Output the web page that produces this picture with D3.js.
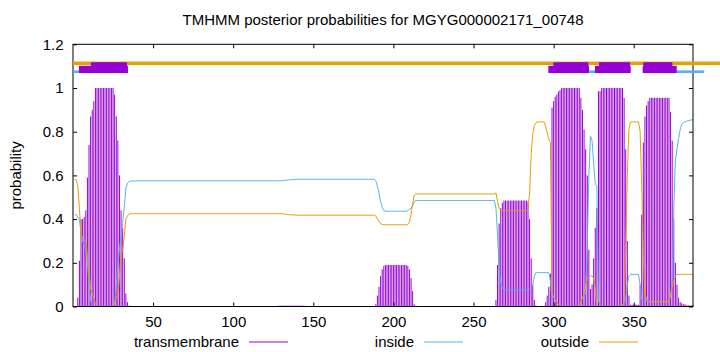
<!DOCTYPE html>
<html>
<head>
<meta charset="utf-8">
<script src="https://cdn.jsdelivr.net/npm/d3@7"></script>
<style>
  body { margin: 0; background: #fff; }
  svg { display: block; font-family: "Liberation Sans", Arial, sans-serif; }
  .axis text { font-size: 15px; fill: #000; }
  .axis line { stroke: #000; }
</style>
</head>
<body>
<div id="chart"></div>
<script>
var title = "TMHMM posterior probabilities for MGYG000002171_00748";

var xTicks = [50, 100, 150, 200, 250, 300, 350];
var yTicks = [0, 0.2, 0.4, 0.6, 0.8, 1, 1.2];
var yTickLabels = ["0", "0.2", "0.4", "0.6", "0.8", "1", "1.2"];

// posterior probability per residue (1..387)
var tmProb = [
  0, 0, 0.04, 0.21, 0.40, 0.40, 0.41, 0.44, 0.59, 0.74,
  0.87, 0.90, 0.94, 1, 1, 1, 1, 1, 1, 1,
  1, 1, 1, 1, 1, 0.97, 0.87, 0.76, 0.60, 0.44,
  0.36, 0.22, 0.06, 0.02, 0.005, 0, 0, 0, 0, 0,
  0, 0, 0, 0, 0, 0, 0, 0, 0, 0,
  0, 0, 0, 0, 0, 0, 0, 0, 0, 0,
  0, 0, 0, 0, 0, 0, 0, 0, 0, 0,
  0, 0, 0, 0, 0, 0, 0, 0, 0, 0,
  0, 0, 0, 0, 0, 0, 0, 0, 0, 0,
  0, 0, 0, 0, 0, 0, 0, 0, 0, 0,
  0, 0, 0, 0, 0, 0, 0, 0, 0, 0,
  0, 0, 0, 0, 0, 0, 0, 0, 0, 0,
  0, 0, 0, 0, 0, 0, 0, 0.003, 0.004, 0.004,
  0.004, 0.004, 0.004, 0.004, 0.004, 0.004, 0.004, 0.004, 0.004, 0.004,
  0.004, 0.004, 0.004, 0.004, 0.003, 0, 0, 0, 0, 0,
  0, 0, 0, 0, 0, 0, 0, 0, 0, 0,
  0, 0, 0, 0, 0, 0, 0, 0, 0, 0,
  0, 0, 0, 0, 0, 0, 0, 0, 0, 0,
  0, 0, 0, 0, 0, 0, 0, 0, 0.01, 0.05,
  0.09, 0.14, 0.17, 0.185, 0.19, 0.19, 0.19, 0.19, 0.19, 0.19,
  0.19, 0.19, 0.19, 0.19, 0.19, 0.19, 0.19, 0.19, 0.185, 0.17,
  0.13, 0.07, 0.01, 0, 0, 0, 0, 0, 0, 0,
  0, 0, 0, 0, 0, 0, 0, 0, 0, 0,
  0, 0, 0, 0, 0, 0, 0, 0, 0, 0,
  0, 0, 0, 0, 0, 0, 0, 0, 0, 0,
  0, 0, 0, 0, 0, 0, 0, 0, 0, 0,
  0, 0, 0, 0.03, 0.19, 0.38, 0.45, 0.475, 0.485, 0.485,
  0.485, 0.485, 0.485, 0.485, 0.485, 0.485, 0.485, 0.485, 0.485, 0.485,
  0.485, 0.485, 0.485, 0.48, 0.40, 0.22, 0.10, 0.03, 0.005, 0.002,
  0.002, 0.002, 0.002, 0.002, 0.02, 0.05, 0.09, 0.15, 0.91, 0.94,
  0.96, 0.97, 0.984, 0.99, 1, 1, 1, 1, 1, 1,
  1, 1, 1, 1, 1, 1, 0.955, 0.90, 0.81, 0.72,
  0.60, 0.26, 0.08, 0.10, 0.22, 0.36, 0.45, 0.985, 0.985, 1,
  1, 1, 1, 1, 1, 1, 1, 1, 1, 1,
  1, 1, 1, 0.954, 0.72, 0.30, 0.05, 0.008, 0.008, 0.008,
  0.008, 0.008, 0.008, 0.10, 0.42, 0.75, 0.87, 0.92, 0.94, 0.955,
  0.955, 0.955, 0.955, 0.955, 0.955, 0.955, 0.955, 0.955, 0.955, 0.955,
  0.955, 0.955, 0.89, 0.76, 0.40, 0.20, 0.10, 0.04, 0.02, 0.015,
  0.01, 0.01, 0.005, 0.005, 0.005, 0.005, 0.005
];

var insideProb = [
  0.42, 0.42, 0.41, 0.40, 0.34, 0.30, 0.28, 0.27, 0.20, 0.10,
  0.03, 0, 0, 0, 0, 0, 0, 0, 0, 0,
  0, 0, 0, 0, 0, 0.01, 0.09, 0.19, 0.26, 0.32,
  0.38, 0.46, 0.54, 0.565, 0.572, 0.574, 0.575, 0.575, 0.575, 0.575,
  0.575, 0.575, 0.575, 0.575, 0.575, 0.575, 0.575, 0.575, 0.575, 0.575,
  0.575, 0.575, 0.575, 0.575, 0.575, 0.575, 0.575, 0.575, 0.575, 0.575,
  0.575, 0.575, 0.575, 0.575, 0.575, 0.575, 0.575, 0.575, 0.575, 0.575,
  0.575, 0.575, 0.575, 0.575, 0.575, 0.575, 0.575, 0.575, 0.575, 0.575,
  0.575, 0.575, 0.575, 0.575, 0.575, 0.575, 0.575, 0.575, 0.575, 0.575,
  0.575, 0.575, 0.575, 0.575, 0.575, 0.575, 0.575, 0.575, 0.575, 0.575,
  0.575, 0.575, 0.575, 0.575, 0.575, 0.575, 0.575, 0.575, 0.575, 0.575,
  0.575, 0.575, 0.575, 0.575, 0.575, 0.575, 0.575, 0.575, 0.575, 0.575,
  0.575, 0.575, 0.575, 0.575, 0.575, 0.575, 0.575, 0.575, 0.575, 0.575,
  0.576, 0.577, 0.578, 0.579, 0.58, 0.58, 0.581, 0.581, 0.582, 0.582,
  0.582, 0.582, 0.582, 0.582, 0.582, 0.582, 0.582, 0.582, 0.582, 0.582,
  0.582, 0.582, 0.582, 0.582, 0.582, 0.582, 0.582, 0.582, 0.582, 0.582,
  0.582, 0.582, 0.582, 0.582, 0.582, 0.582, 0.582, 0.582, 0.582, 0.582,
  0.582, 0.582, 0.582, 0.582, 0.582, 0.582, 0.582, 0.582, 0.582, 0.582,
  0.582, 0.582, 0.582, 0.582, 0.582, 0.582, 0.582, 0.582, 0.575, 0.55,
  0.52, 0.48, 0.455, 0.44, 0.437, 0.436, 0.436, 0.436, 0.436, 0.436,
  0.436, 0.436, 0.436, 0.436, 0.436, 0.436, 0.436, 0.436, 0.44, 0.445,
  0.45, 0.46, 0.48, 0.485, 0.485, 0.485, 0.485, 0.485, 0.485, 0.485,
  0.485, 0.485, 0.485, 0.485, 0.485, 0.485, 0.485, 0.485, 0.485, 0.485,
  0.485, 0.485, 0.485, 0.485, 0.485, 0.485, 0.485, 0.485, 0.485, 0.485,
  0.485, 0.485, 0.485, 0.485, 0.485, 0.485, 0.485, 0.485, 0.485, 0.485,
  0.485, 0.485, 0.485, 0.485, 0.485, 0.485, 0.485, 0.485, 0.485, 0.485,
  0.485, 0.485, 0.485, 0.45, 0.33, 0.17, 0.11, 0.085, 0.076, 0.076,
  0.076, 0.076, 0.076, 0.076, 0.076, 0.076, 0.076, 0.076, 0.076, 0.076,
  0.076, 0.076, 0.076, 0.076, 0.08, 0.09, 0.10, 0.14, 0.155, 0.155,
  0.155, 0.155, 0.155, 0.155, 0.155, 0.155, 0.155, 0.12, 0.02, 0.01,
  0, 0, 0, 0, 0, 0, 0, 0, 0, 0,
  0, 0, 0, 0, 0, 0, 0, 0, 0.02, 0.08,
  0.27, 0.60, 0.78, 0.76, 0.65, 0.56, 0.55, 0.02, 0.015, 0,
  0, 0, 0, 0, 0, 0, 0, 0, 0, 0,
  0, 0, 0, 0.02, 0.03, 0.10, 0.14, 0.147, 0.147, 0.147,
  0.147, 0.147, 0.147, 0.10, 0.03, 0.022, 0.022, 0.022, 0.022, 0.022,
  0.022, 0.022, 0.022, 0.022, 0.022, 0.022, 0.022, 0.022, 0.022, 0.022,
  0.022, 0.022, 0.05, 0.12, 0.45, 0.67, 0.72, 0.77, 0.81, 0.835,
  0.842, 0.845, 0.848, 0.85, 0.852, 0.854, 0.855
];

var outsideProb = [
  0.58, 0.58, 0.55, 0.45, 0.33, 0.31, 0.305, 0.30, 0.23, 0.16,
  0.08, 0.06, 0.04, 0.01, 0, 0, 0, 0, 0, 0,
  0, 0, 0, 0, 0, 0.02, 0.04, 0.05, 0.14, 0.24,
  0.26, 0.32, 0.40, 0.415, 0.423, 0.425, 0.425, 0.425, 0.425, 0.425,
  0.425, 0.425, 0.425, 0.425, 0.425, 0.425, 0.425, 0.425, 0.425, 0.425,
  0.425, 0.425, 0.425, 0.425, 0.425, 0.425, 0.425, 0.425, 0.425, 0.425,
  0.425, 0.425, 0.425, 0.425, 0.425, 0.425, 0.425, 0.425, 0.425, 0.425,
  0.425, 0.425, 0.425, 0.425, 0.425, 0.425, 0.425, 0.425, 0.425, 0.425,
  0.425, 0.425, 0.425, 0.425, 0.425, 0.425, 0.425, 0.425, 0.425, 0.425,
  0.425, 0.425, 0.425, 0.425, 0.425, 0.425, 0.425, 0.425, 0.425, 0.425,
  0.425, 0.425, 0.425, 0.425, 0.425, 0.425, 0.425, 0.425, 0.425, 0.425,
  0.425, 0.425, 0.425, 0.425, 0.425, 0.425, 0.425, 0.425, 0.425, 0.425,
  0.425, 0.425, 0.425, 0.425, 0.425, 0.425, 0.425, 0.425, 0.425, 0.425,
  0.424, 0.423, 0.422, 0.421, 0.42, 0.42, 0.419, 0.419, 0.418, 0.418,
  0.418, 0.418, 0.418, 0.418, 0.418, 0.418, 0.418, 0.418, 0.418, 0.418,
  0.418, 0.418, 0.418, 0.418, 0.418, 0.418, 0.418, 0.418, 0.418, 0.418,
  0.418, 0.418, 0.418, 0.418, 0.418, 0.418, 0.418, 0.418, 0.418, 0.418,
  0.418, 0.418, 0.418, 0.418, 0.418, 0.418, 0.418, 0.418, 0.418, 0.418,
  0.418, 0.418, 0.418, 0.418, 0.418, 0.418, 0.418, 0.418, 0.415, 0.40,
  0.39, 0.38, 0.375, 0.375, 0.374, 0.374, 0.374, 0.374, 0.374, 0.374,
  0.374, 0.374, 0.374, 0.374, 0.374, 0.374, 0.374, 0.374, 0.375, 0.385,
  0.42, 0.47, 0.51, 0.515, 0.515, 0.515, 0.515, 0.515, 0.515, 0.515,
  0.515, 0.515, 0.515, 0.515, 0.515, 0.515, 0.515, 0.515, 0.515, 0.515,
  0.515, 0.515, 0.515, 0.515, 0.515, 0.515, 0.515, 0.515, 0.515, 0.515,
  0.515, 0.515, 0.515, 0.515, 0.515, 0.515, 0.515, 0.515, 0.515, 0.515,
  0.515, 0.515, 0.515, 0.515, 0.515, 0.515, 0.515, 0.515, 0.515, 0.515,
  0.515, 0.515, 0.515, 0.52, 0.48, 0.45, 0.44, 0.44, 0.439, 0.439,
  0.439, 0.439, 0.439, 0.439, 0.439, 0.439, 0.439, 0.439, 0.439, 0.439,
  0.439, 0.439, 0.439, 0.444, 0.52, 0.70, 0.79, 0.83, 0.84, 0.845,
  0.845, 0.845, 0.845, 0.845, 0.825, 0.795, 0.765, 0.75, 0.07, 0.04,
  0.03, 0.02, 0.01, 0.005, 0, 0, 0, 0, 0, 0,
  0, 0, 0, 0, 0, 0, 0.02, 0.04, 0.06, 0.09,
  0.13, 0.137, 0.14, 0.14, 0.13, 0.08, 0, 0, 0, 0,
  0, 0, 0, 0, 0, 0, 0, 0, 0, 0,
  0, 0, 0, 0.026, 0.25, 0.60, 0.81, 0.845, 0.845, 0.845,
  0.845, 0.845, 0.845, 0.80, 0.55, 0.23, 0.06, 0.03, 0.022, 0.022,
  0.022, 0.022, 0.022, 0.022, 0.022, 0.022, 0.022, 0.022, 0.022, 0.022,
  0.022, 0.022, 0.05, 0.09, 0.12, 0.14, 0.147, 0.147, 0.147, 0.147,
  0.147, 0.147, 0.147, 0.147, 0.147, 0.147, 0.147
];

// predicted topology drawn above the curves (residue ranges)
var outsideTop = [[0, 404]];
var insideTop = [[0.2, 10.6], [319.6, 327.8], [374.5, 394]];
var tmTopWide = [[3.7, 34.3], [296.7, 322.1], [325.8, 348.1], [355.6, 376.8]];
var tmTopCore = [[11.2, 33.7], [299.8, 321.7], [328.3, 347.7], [356, 374.1]];

var legendNames = ["transmembrane", "inside", "outside"];
var colors = { tm: "#9400d3", inside: "#56b4e9", outside: "#e69f00" };

function viz() {
  var width = 720, height = 352;
  var left = 73, right = 693, top = 44.3, bottom = 306.5;

  var svg = d3.select("#chart").append("svg")
    .attr("width", width)
    .attr("height", height);

  var x = d3.scaleLinear().domain([0, 387]).range([left, right]);
  var y = d3.scaleLinear().domain([0, 1.2]).range([bottom, top]);

  var pos = tmProb.map(function(d, i) { return i + 1; });

  // impulses
  svg.append("g")
    .selectAll("line")
    .data(pos)
    .enter().append("line")
      .attr("x1", function(d) { return x(d); })
      .attr("x2", function(d) { return x(d); })
      .attr("y1", y(0))
      .attr("y2", function(d) { return y(tmProb[d - 1]); })
      .attr("stroke", colors.tm)
      .attr("stroke-width", 1);

  var line = d3.line()
    .x(function(d, i) { return x(i + 1); })
    .y(function(d) { return y(d); });

  svg.append("path")
    .datum(insideProb)
    .attr("d", line)
    .attr("fill", "none")
    .attr("stroke", colors.inside)
    .attr("stroke-width", 1);

  svg.append("path")
    .datum(outsideProb)
    .attr("d", line)
    .attr("fill", "none")
    .attr("stroke", colors.outside)
    .attr("stroke-width", 1);

  // axes, ticks inward on all four sides
  var yAxis = d3.axisLeft(y).tickValues(yTicks)
    .tickFormat(function(d, i) { return yTickLabels[i]; })
    .tickSizeInner(-4).tickSizeOuter(0).tickPadding(9.5);
  svg.append("g").attr("class", "axis")
    .attr("transform", "translate(" + left + ",0)")
    .call(yAxis);

  svg.append("g").attr("class", "axis")
    .attr("transform", "translate(" + right + ",0)")
    .call(d3.axisRight(y).tickValues(yTicks).tickFormat("").tickSizeInner(-4).tickSizeOuter(0));

  svg.append("g").attr("class", "axis")
    .attr("transform", "translate(0," + bottom + ")")
    .call(d3.axisBottom(x).tickValues(xTicks).tickSizeInner(-4).tickSizeOuter(0).tickPadding(10));

  svg.append("g").attr("class", "axis")
    .attr("transform", "translate(0," + top + ")")
    .call(d3.axisTop(x).tickValues(xTicks).tickFormat("").tickSizeInner(-4).tickSizeOuter(0));

  svg.selectAll(".axis .domain").remove();

  svg.append("rect")
    .attr("x", left)
    .attr("y", top)
    .attr("width", right - left)
    .attr("height", bottom - top)
    .attr("fill", "none")
    .attr("stroke", "#000")
    .attr("stroke-width", 1);

  // topology bars
  svg.append("g").selectAll("rect")
    .data(outsideTop)
    .enter().append("rect")
      .attr("x", function(d) { return x(d[0]); })
      .attr("width", function(d) { return x(d[1]) - x(d[0]); })
      .attr("y", y(1.121))
      .attr("height", y(1.105) - y(1.121))
      .attr("fill", colors.outside);

  svg.append("g").selectAll("rect")
    .data(insideTop)
    .enter().append("rect")
      .attr("x", function(d) { return x(d[0]); })
      .attr("width", function(d) { return x(d[1]) - x(d[0]); })
      .attr("y", y(1.0805))
      .attr("height", y(1.0685) - y(1.0805))
      .attr("fill", colors.inside);

  svg.append("g").selectAll("rect")
    .data(tmTopWide)
    .enter().append("rect")
      .attr("x", function(d) { return x(d[0]); })
      .attr("width", function(d) { return x(d[1]) - x(d[0]); })
      .attr("y", y(1.1017))
      .attr("height", y(1.0685) - y(1.1017))
      .attr("fill", colors.tm);

  svg.append("g").selectAll("rect")
    .data(tmTopCore)
    .enter().append("rect")
      .attr("x", function(d) { return x(d[0]); })
      .attr("width", function(d) { return x(d[1]) - x(d[0]); })
      .attr("y", y(1.118))
      .attr("height", y(1.0685) - y(1.118))
      .attr("fill", colors.tm);

  // title and axis label
  svg.append("text")
    .attr("x", 383)
    .attr("y", 25)
    .attr("text-anchor", "middle")
    .attr("font-size", "15px")
    .text(title);

  svg.append("text")
    .attr("transform", "translate(21," + ((top + bottom) / 2) + ") rotate(-90)")
    .attr("text-anchor", "middle")
    .attr("font-size", "15px")
    .text("probability");

  // legend
  var legendX = [239, 414, 589];
  var legendColors = [colors.tm, colors.inside, colors.outside];
  var legend = svg.append("g").selectAll("g")
    .data(legendNames)
    .enter().append("g")
      .attr("transform", function(d, i) { return "translate(" + legendX[i] + ",342)"; });

  legend.append("text")
    .attr("y", 4.5)
    .attr("text-anchor", "end")
    .attr("font-size", "15px")
    .text(function(d) { return d; });

  legend.append("line")
    .attr("x1", 10)
    .attr("x2", 49)
    .attr("stroke", function(d, i) { return legendColors[i]; })
    .attr("stroke-width", 1);
}

viz();
</script>
</body>
</html>
